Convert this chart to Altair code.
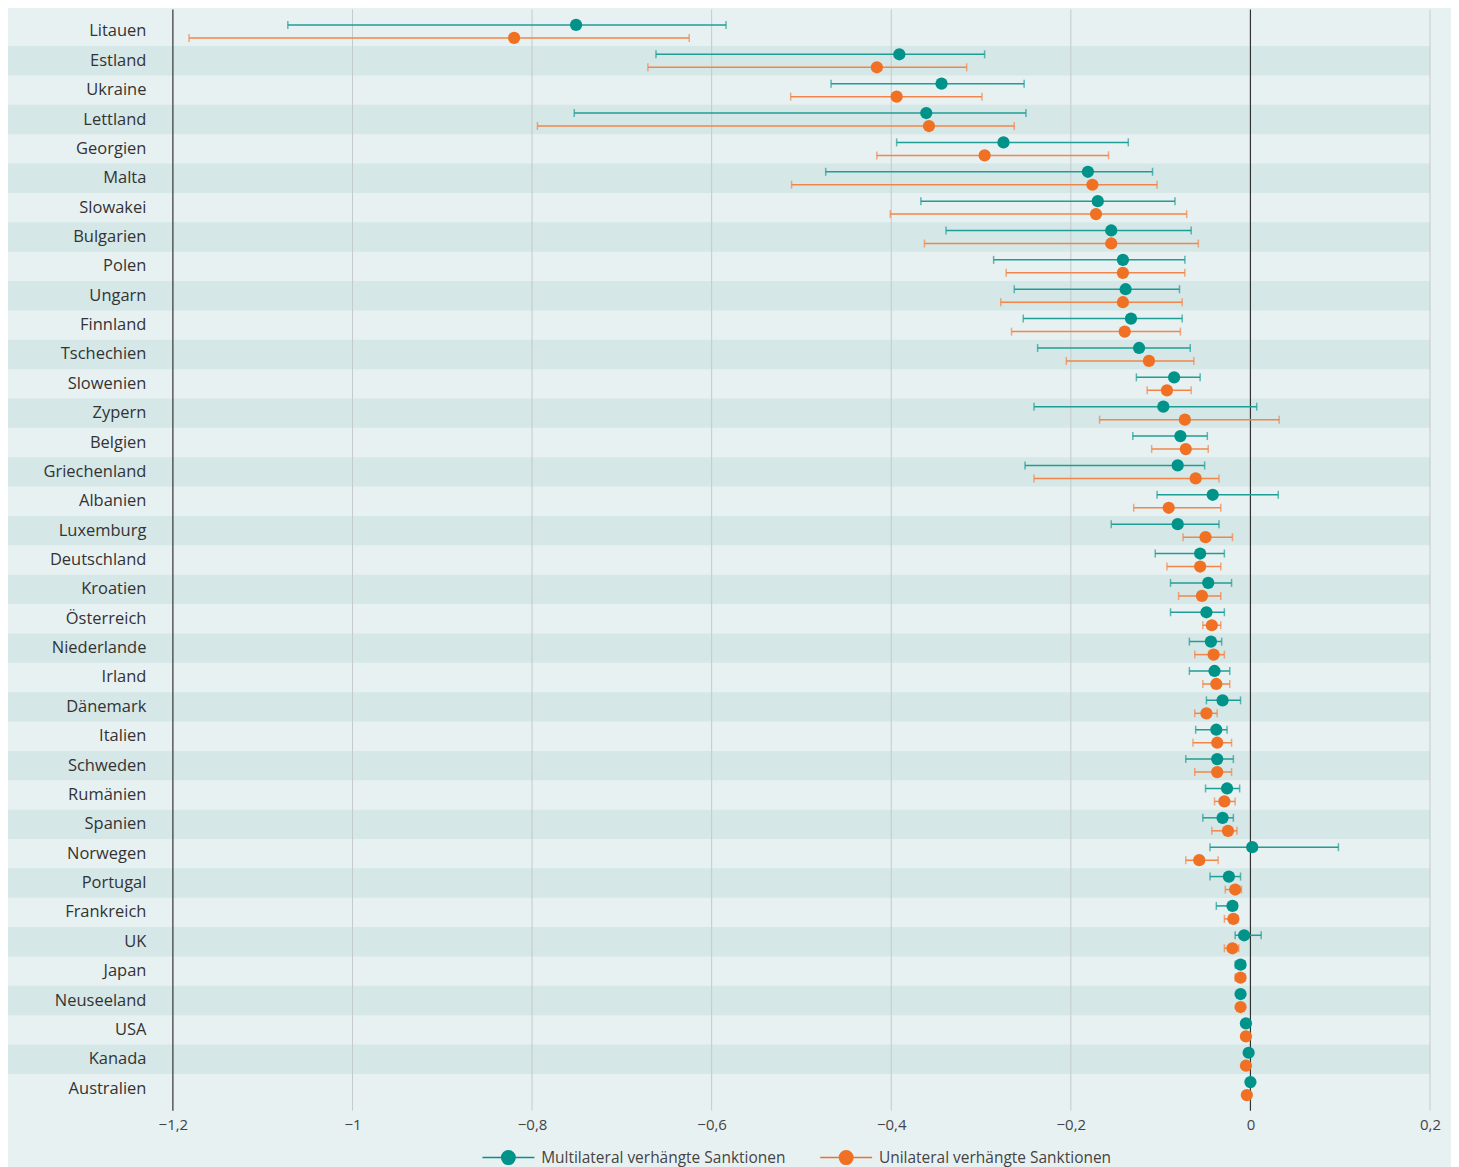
import altair as alt
import pandas as pd

countries = ["Litauen", "Estland", "Ukraine", "Lettland", "Georgien", "Malta", "Slowakei",
             "Bulgarien", "Polen", "Ungarn", "Finnland", "Tschechien", "Slowenien", "Zypern",
             "Belgien", "Griechenland", "Albanien", "Luxemburg", "Deutschland", "Kroatien",
             "Österreich", "Niederlande", "Irland", "Dänemark", "Italien", "Schweden",
             "Rumänien", "Spanien", "Norwegen", "Portugal", "Frankreich", "UK", "Japan",
             "Neuseeland", "USA", "Kanada", "Australien"]

multi_est = [-0.751, -0.391, -0.344, -0.361, -0.275, -0.181, -0.170, -0.155, -0.142, -0.139,
             -0.133, -0.124, -0.085, -0.097, -0.078, -0.081, -0.042, -0.081, -0.056, -0.047,
             -0.049, -0.044, -0.040, -0.031, -0.038, -0.037, -0.026, -0.031, 0.002, -0.024,
             -0.020, -0.007, -0.011, -0.011, -0.005, -0.002, 0.000]
multi_lo = [-1.072, -0.662, -0.467, -0.753, -0.394, -0.473, -0.367, -0.339, -0.286, -0.263,
            -0.253, -0.237, -0.127, -0.241, -0.131, -0.251, -0.104, -0.155, -0.106, -0.089,
            -0.089, -0.068, -0.068, -0.049, -0.061, -0.072, -0.050, -0.053, -0.045, -0.045,
            -0.038, -0.017, -0.017, -0.014, -0.008, -0.004, -0.002]
multi_hi = [-0.584, -0.296, -0.252, -0.250, -0.136, -0.109, -0.084, -0.066, -0.073, -0.079,
            -0.076, -0.067, -0.056, 0.007, -0.048, -0.051, 0.031, -0.035, -0.029, -0.021,
            -0.029, -0.032, -0.023, -0.011, -0.026, -0.019, -0.012, -0.019, 0.098, -0.011,
            -0.015, 0.012, -0.006, -0.008, -0.003, 0.000, 0.002]

uni_est = [-0.820, -0.416, -0.394, -0.358, -0.296, -0.176, -0.172, -0.155, -0.142, -0.142,
           -0.140, -0.113, -0.093, -0.073, -0.072, -0.061, -0.091, -0.050, -0.056, -0.054,
           -0.043, -0.041, -0.038, -0.049, -0.037, -0.037, -0.029, -0.025, -0.057, -0.017,
           -0.019, -0.020, -0.011, -0.011, -0.005, -0.005, -0.004]
uni_lo = [-1.182, -0.671, -0.512, -0.794, -0.416, -0.511, -0.401, -0.363, -0.272, -0.278,
          -0.266, -0.205, -0.115, -0.168, -0.110, -0.241, -0.130, -0.075, -0.093, -0.080,
          -0.053, -0.062, -0.053, -0.062, -0.064, -0.062, -0.040, -0.043, -0.072, -0.028,
          -0.029, -0.029, -0.017, -0.014, -0.008, -0.007, -0.006]
uni_hi = [-0.625, -0.316, -0.299, -0.263, -0.158, -0.104, -0.071, -0.058, -0.073, -0.076,
          -0.078, -0.063, -0.066, 0.032, -0.047, -0.035, -0.033, -0.020, -0.033, -0.033,
          -0.033, -0.029, -0.023, -0.037, -0.021, -0.021, -0.017, -0.015, -0.036, -0.010,
          -0.014, -0.013, -0.006, -0.008, -0.003, -0.003, -0.002]

series_names = ["Multilateral verhängte Sanktionen", "Unilateral verhängte Sanktionen"]
x_ticks = [-1.2, -1.0, -0.8, -0.6, -0.4, -0.2, 0.0, 0.2]
light_lines = [-1.0, -0.8, -0.6, -0.4, -0.2, 0.2]
dark_lines = [-1.2, 0.0]
striped = countries[1::2]

BG = "#e8f1f2"
STRIPE = "#d5e7e7"
TEAL = "#00938a"
ORANGE = "#f07124"
TEAL_LINE = "#1f9e95"
ORANGE_LINE = "#f2864a"
FONT = "Open Sans"
W = 1258
H = 1102

rows = []
for i, c in enumerate(countries):
    rows.append(dict(country=c, series=series_names[0], est=multi_est[i], lo=multi_lo[i], hi=multi_hi[i]))
    rows.append(dict(country=c, series=series_names[1], est=uni_est[i], lo=uni_lo[i], hi=uni_hi[i]))
df = pd.DataFrame(rows)

yscale = alt.Scale(domain=countries, paddingInner=0, paddingOuter=0.25)
xscale = alt.Scale(domain=[-1.2, 0.2], nice=False, zero=False)
cscale = alt.Scale(domain=series_names, range=[TEAL, ORANGE])

stripes = alt.Chart(pd.DataFrame({"country": striped})).mark_rect(color=STRIPE).encode(
    y=alt.Y("country:N", scale=yscale, title=None,
            axis=alt.Axis(labelFontSize=16.5, labelColor="#333333", labelPadding=27, ticks=False,
                          domain=False, grid=False, labelFont=FONT)),
    x=alt.value(-165),
    x2=alt.value(W),
)

grid = alt.Chart(pd.DataFrame({"v": light_lines})).mark_rule(color="#c4caca", strokeWidth=1).encode(
    x=alt.X("v:Q", scale=xscale, title=None,
            axis=alt.Axis(values=x_ticks, labelExpr="replace(format(datum.value, '.1~f'), '.', ',')",
                          ticks=False, domain=False, grid=False, labelPadding=7, labelFontSize=15,
                          labelColor="#444444", labelFont=FONT, labelFlush=False)),
    y=alt.value(0),
    y2=alt.value(H),
)

dark = alt.Chart(pd.DataFrame({"v": dark_lines})).mark_rule(color="#333333", strokeWidth=1.2).encode(
    x=alt.X("v:Q", scale=xscale, title=None),
    y=alt.value(0),
    y2=alt.value(H),
)

legend_path = "M-5.2,0H-1.35M1.35,0H5.2M-1.35,0A1.35,1.35,0,1,0,1.35,0A1.35,1.35,0,1,0,-1.35,0Z"
leg = alt.Legend(orient="none", legendX=328, legendY=1141, direction="horizontal", title=None,
                 symbolType=legend_path, symbolSize=100, symbolStrokeWidth=1.5,
                 labelFontSize=15.5, labelOffset=25, columnPadding=30, labelColor="#444444",
                 labelFont=FONT, labelLimit=600)


def series_layers(name, line_color, off):
    base = alt.Chart(df).transform_filter(alt.datum.series == name)
    rule = base.mark_rule(color=line_color, strokeWidth=1.5, yOffset=off).encode(
        x=alt.X("lo:Q", scale=xscale, title=None), x2="hi:Q",
        y=alt.Y("country:N", scale=yscale, title=None))
    cap_lo = base.mark_tick(color=line_color, thickness=1.5, size=8, yOffset=off).encode(
        x=alt.X("lo:Q", scale=xscale, title=None), y=alt.Y("country:N", scale=yscale, title=None))
    cap_hi = base.mark_tick(color=line_color, thickness=1.5, size=8, yOffset=off).encode(
        x=alt.X("hi:Q", scale=xscale, title=None), y=alt.Y("country:N", scale=yscale, title=None))
    pts = base.mark_circle(size=150, opacity=1, strokeWidth=0, yOffset=off).encode(
        x=alt.X("est:Q", scale=xscale, title=None),
        y=alt.Y("country:N", scale=yscale, title=None),
        color=alt.Color("series:N", scale=cscale, legend=leg),
        stroke=alt.Stroke("series:N", scale=cscale, legend=leg),
    )
    return [rule, cap_lo, cap_hi], pts


teal_lines, teal_pts = series_layers(series_names[0], TEAL_LINE, -6.5)
orange_lines, orange_pts = series_layers(series_names[1], ORANGE_LINE, 6.5)

chart = alt.layer(
    stripes, grid, dark, *teal_lines, *orange_lines, teal_pts, orange_pts
).properties(
    width=W, height=H, background=BG,
    padding={"left": 0, "top": 0, "right": 10, "bottom": 0},
).configure_view(stroke=None)

chart.save("out.html", embed_options={"renderer": "svg", "actions": False})
